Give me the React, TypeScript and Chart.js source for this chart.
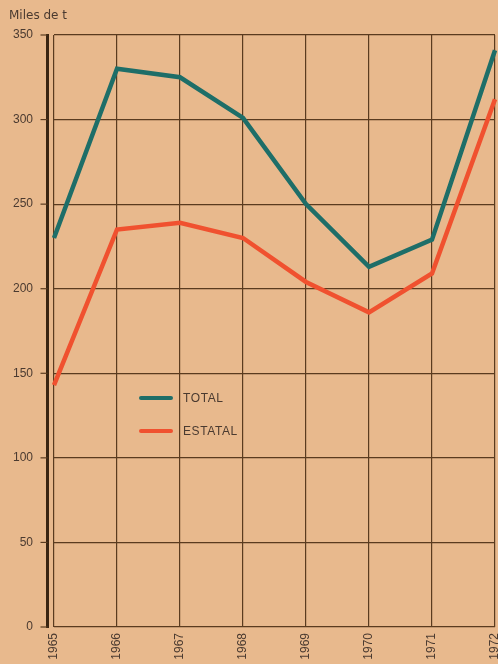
import React, { useEffect, useRef } from "react";
import { Chart, registerables } from "chart.js";

Chart.register(...registerables);

const years = ["1965", "1966", "1967", "1968", "1969", "1970", "1971", "1972"];
const totalValues = [230, 330, 325, 301, 250, 213, 229, 341];
const estatalValues = [143, 235, 239, 230, 204, 186, 209, 312];
const unitLabel = "Miles de t";
const seriesNames = ["TOTAL", "ESTATAL"];

const BG = "#E8B98D";
const GRID = "#5A3B1F";
const TEXT = "#4A3A30";
const TEAL = "#1E6E68";
const RED = "#F0512F";
const FONT = "'Liberation Sans', Arial, sans-serif";

const axisPlugin = {
  id: "thickAxis",
  afterDraw(chart: any) {
    const { ctx, chartArea, scales } = chart;
    const y = scales.y;
    const x0 = chartArea.left - 6.5;
    const top = y.getPixelForValue(350);
    const bottom = y.getPixelForValue(0);
    ctx.save();
    ctx.strokeStyle = "#3A2512";
    ctx.lineWidth = 3;
    ctx.beginPath();
    ctx.moveTo(x0, top - 1);
    ctx.lineTo(x0, bottom + 1);
    ctx.stroke();
    ctx.lineWidth = 1.2;
    ctx.strokeStyle = GRID;
    y.ticks.forEach((t: any) => {
      const py = y.getPixelForValue(t.value);
      ctx.beginPath();
      ctx.moveTo(x0 - 7, py);
      ctx.lineTo(x0, py);
      ctx.stroke();
    });
    ctx.restore();
  },
};

export default function App() {
  const ref = useRef<HTMLCanvasElement>(null);
  useEffect(() => {
    if (!ref.current) return;
    const chart = new Chart(ref.current, {
      type: "line",
      data: {
        labels: years,
        datasets: [
          {
            label: seriesNames[0],
            data: totalValues,
            borderColor: TEAL,
            borderWidth: 4.5,
            pointRadius: 0,
            tension: 0,
          },
          {
            label: seriesNames[1],
            data: estatalValues,
            borderColor: RED,
            borderWidth: 4.5,
            pointRadius: 0,
            tension: 0,
          },
        ],
      },
      options: {
        responsive: false,
        animation: false,
        layout: { padding: { left: 9, right: 3, top: 0, bottom: 0 } },
        plugins: {
          legend: { display: false },
          tooltip: { enabled: false },
          title: {
            display: true,
            text: unitLabel,
            align: "start",
            color: TEXT,
            font: { family: "'DejaVu Sans', sans-serif", size: 12, weight: "normal" },
            padding: { top: 8.8, bottom: 11.8 },
          },
        },
        scales: {
          x: {
            type: "category",
            offset: false,
            grid: { color: GRID, lineWidth: 1.2, drawTicks: false },
            border: { display: false },
            ticks: {
              color: TEXT,
              font: { family: FONT, size: 12 },
              maxRotation: 90,
              minRotation: 90,
              padding: 6,
              autoSkip: false,
            },
            afterFit: (s: any) => {
              s.height = 37;
              s.paddingLeft = 0;
              s.paddingRight = 0;
            },
          },
          y: {
            min: 0,
            max: 350,
            grid: { color: GRID, lineWidth: 1.2, drawTicks: false },
            border: { display: false },
            ticks: {
              stepSize: 50,
              color: TEXT,
              font: { family: FONT, size: 12 },
              padding: 21,
            },
            afterFit: (s: any) => {
              s.width = 45;
            },
          },
        },
      },
      plugins: [axisPlugin],
    });
    return () => chart.destroy();
  }, []);

  const legendText: React.CSSProperties = {
    fontFamily: FONT,
    fontSize: 12,
    color: TEXT,
    letterSpacing: 0.6,
  };

  return (
    <div
      style={{
        position: "fixed",
        left: 0,
        top: 0,
        width: 498,
        height: 664,
        background: BG,
        overflow: "hidden",
      }}
    >
      <canvas ref={ref} width={498} height={664} style={{ display: "block" }} />
      <div style={{ position: "absolute", left: 139, top: 390, display: "flex", alignItems: "center", height: 16 }}>
        <div style={{ width: 34, height: 4, background: TEAL, borderRadius: 2 }} />
        <span style={{ ...legendText, marginLeft: 10 }}>{seriesNames[0]}</span>
      </div>
      <div style={{ position: "absolute", left: 139, top: 423, display: "flex", alignItems: "center", height: 16 }}>
        <div style={{ width: 34, height: 4, background: RED, borderRadius: 2 }} />
        <span style={{ ...legendText, marginLeft: 10 }}>{seriesNames[1]}</span>
      </div>
    </div>
  );
}
